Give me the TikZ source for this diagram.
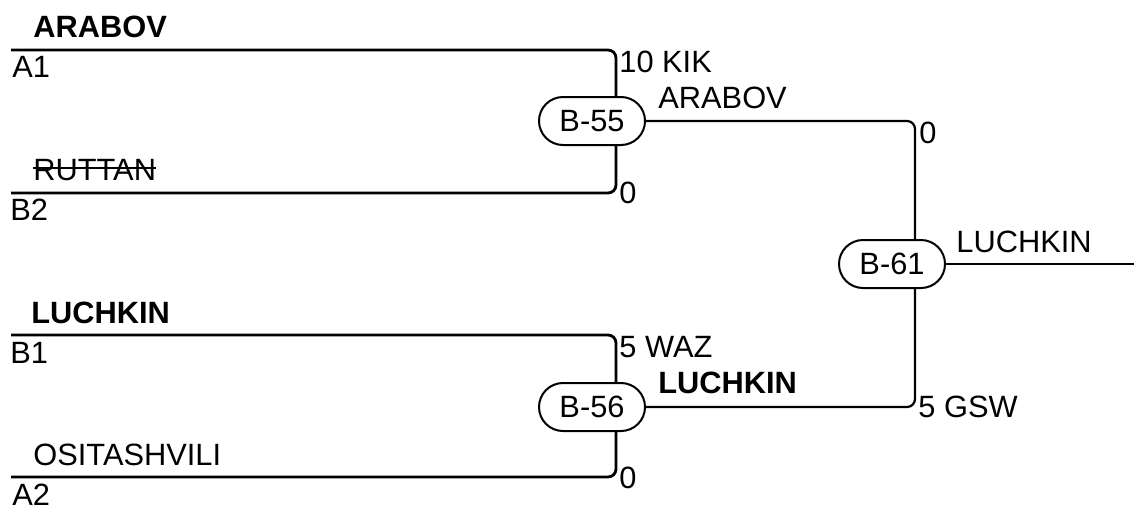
\documentclass[tikz,border=0pt]{standalone}
\usepackage{fontspec}
\setmainfont{Liberation Sans}
\usetikzlibrary{positioning}

\tikzset{
    bout/.style={draw,line width=1pt,rounded corners=12pt,minimum width=53pt,minimum height=24pt,inner sep=0pt},
    lbl/.style={anchor=base west,inner sep=0pt},
    entry/.style={line width=1.4pt,rounded corners=4pt},
    feed/.style={line width=1.1pt,rounded corners=4pt},
}

\begin{document}
\begin{tikzpicture}[x=0.5pt,y=-0.5pt,font=\fontsize{15.4}{18}\selectfont]
                    \useasboundingbox(0,0)rectangle(1134,504);

                    % bouts
                    \node[bout](B55)at(592,121){B-55};
                    \node[bout](B56)at(592,407){B-56};
                    \node[bout](B61)at(892,264){B-61};

                    % first bout
                    \coordinate(A1)at(11,50);
                    \coordinate(A1c)at(616,50);
                    \draw[entry](A1)--(A1c)--(A1c|-B55.north);
                    \coordinate(B2)at(11,193);
                    \coordinate(B2c)at(616,193);
                    \draw[entry](B2)--(B2c)--(B2c|-B55.south);
                    \node[lbl](nA1)at(33,37){\textbf{ARABOV}};
                    \node[lbl](lA1)at(12,77){A1};
                    \node[lbl](nB2)at(33,180){RUTTAN};
                    \draw[line width=1pt]([yshift=5.8pt]nB2.base west)--([yshift=5.8pt]nB2.base east);
                    \node[lbl](lB2)at(10,220){B2};
                    \node[lbl](sA1)at(619,72){10 KIK};
                    \node[lbl](sB2)at(619,203){0};
                    \node[lbl](w55)at(658,108){ARABOV};

                    % second bout
                    \coordinate(B1)at(11,335);
                    \coordinate(B1c)at(616,335);
                    \draw[entry](B1)--(B1c)--(B1c|-B56.north);
                    \coordinate(A2)at(11,477);
                    \coordinate(A2c)at(616,477);
                    \draw[entry](A2)--(A2c)--(A2c|-B56.south);
                    \node[lbl](nB1)at(31,323){\textbf{LUCHKIN}};
                    \node[lbl](lB1)at(10,363){B1};
                    \node[lbl](nA2)at(33,465){OSITASHVILI};
                    \node[lbl](lA2)at(12,505){A2};
                    \node[lbl](sB1)at(619,357){5 WAZ};
                    \node[lbl](sA2)at(619,488){0};
                    \node[lbl](w56)at(658,393){\textbf{LUCHKIN}};

                    % final
                    \coordinate(T)at(915,121);
                    \coordinate(U)at(915,407);
                    \draw[feed](B55.east)--(T)--(T|-B61.north);
                    \draw[feed](B56.east)--(U)--(U|-B61.south);
                    \coordinate(W)at(1134,264);
                    \draw[feed](B61.east)--(W);
                    \node[lbl](s55)at(919,143){0};
                    \node[lbl](s56)at(918,417){5 GSW};
                    \node[lbl](w61)at(956,252){LUCHKIN};
                \end{tikzpicture}
\end{document}
